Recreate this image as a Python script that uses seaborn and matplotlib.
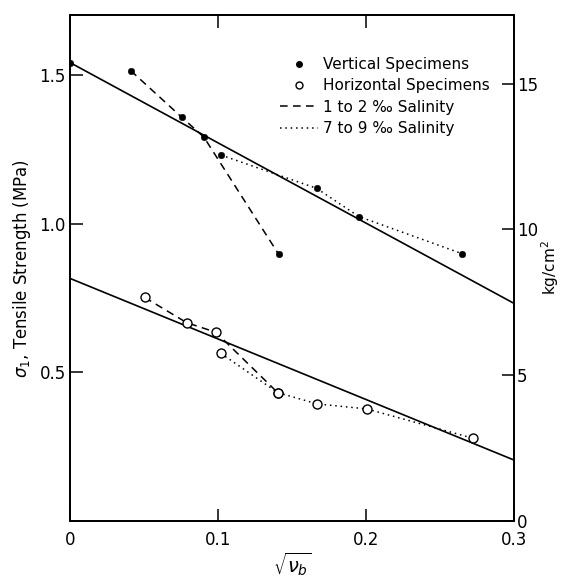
import matplotlib
matplotlib.use("Agg")
import matplotlib.pyplot as plt
import seaborn as sns
from matplotlib.lines import Line2D

# Fitted straight lines (end points at sqrt(nu_b) = 0 and 0.3)
fit_x = [0.0, 0.3]
vert_fit_y = [1.542, 0.732]
horiz_fit_y = [0.816, 0.205]

# Vertical specimens (filled dots)
vert_low_x = [0.041, 0.0755, 0.0905, 0.141]      # 1 to 2 permil salinity
vert_low_y = [1.515, 1.358, 1.291, 0.897]
vert_high_x = [0.102, 0.1666, 0.1952, 0.265]     # 7 to 9 permil salinity
vert_high_y = [1.231, 1.119, 1.024, 0.899]
vert_zero_x = [0.0]
vert_zero_y = [1.542]

# Horizontal specimens (open circles)
horiz_low_x = [0.0504, 0.0789, 0.0985, 0.1403]
horiz_low_y = [0.752, 0.667, 0.635, 0.432]
horiz_high_x = [0.1019, 0.1403, 0.1669, 0.2005, 0.2725]
horiz_high_y = [0.564, 0.432, 0.394, 0.377, 0.278]

x_ticks = [0.0, 0.1, 0.2, 0.3]
x_labels = ["0", "0.1", "0.2", "0.3"]
y_ticks = [0.5, 1.0, 1.5]
y_labels = ["0.5", "1.0", "1.5"]
kg_ticks = [0, 5, 10, 15]
MPA_TO_KG = 10.197

sns.set_style("ticks")
plt.rcParams['font.family'] = ['DejaVu Sans']
plt.rcParams['mathtext.fontset'] = 'dejavusans'
plt.rcParams['text.color'] = 'k'
plt.rcParams['axes.labelcolor'] = 'k'
plt.rcParams['xtick.color'] = 'k'
plt.rcParams['ytick.color'] = 'k'

fig = plt.figure(figsize=(5.61, 5.81), dpi=100)
ax = fig.add_axes([70 / 561, 1 - 521 / 581, 444 / 561, 506 / 581])

dash = (0, (5, 3.5))
dot = (0, (1, 2.5))

# fitted lines
sns.lineplot(x=fit_x, y=vert_fit_y, ax=ax, color='k', lw=1.2)
sns.lineplot(x=fit_x, y=horiz_fit_y, ax=ax, color='k', lw=1.2)

# salinity series
sns.lineplot(x=vert_low_x, y=vert_low_y, ax=ax, color='k', lw=1.1,
             linestyle=dash, sort=False, estimator=None)
sns.lineplot(x=vert_high_x, y=vert_high_y, ax=ax, color='k', lw=1.1,
             linestyle=dot, sort=False, estimator=None)
sns.lineplot(x=horiz_low_x, y=horiz_low_y, ax=ax, color='k', lw=1.1,
             linestyle=dash, sort=False, estimator=None)
sns.lineplot(x=horiz_high_x, y=horiz_high_y, ax=ax, color='k', lw=1.1,
             linestyle=dot, sort=False, estimator=None)

# markers
sns.scatterplot(x=vert_low_x + vert_high_x + vert_zero_x,
                y=vert_low_y + vert_high_y + vert_zero_y,
                ax=ax, color='k', s=22, edgecolor='k', zorder=5)
sns.scatterplot(x=horiz_low_x + horiz_high_x, y=horiz_low_y + horiz_high_y,
                ax=ax, facecolor='white', edgecolor='k', s=42,
                linewidth=1.0, zorder=5)

ax.set_xlim(0, 0.3)
ax.set_ylim(0, 1.702)
ax.set_xticks(x_ticks)
ax.set_xticklabels(x_labels)
ax.set_yticks(y_ticks)
ax.set_yticklabels(y_labels)
ax.tick_params(axis='both', direction='in', length=9, width=1.1,
               labelsize=12, color='k')
ax.tick_params(axis='x', top=True, pad=7)
ax.tick_params(axis='y', pad=3)
for sp in ax.spines.values():
    sp.set_linewidth(1.3)
    sp.set_color('k')

ax.set_xlabel(r"$\sqrt{\nu_b}$", fontsize=14, labelpad=1)
ax.set_ylabel(r"$\sigma_1$, Tensile Strength (MPa)", fontsize=12, labelpad=5)

# secondary axis in kg/cm2
ax2 = ax.twinx()
ax2.set_ylim(0, 1.702 * MPA_TO_KG)
ax2.set_yticks(kg_ticks)
ax2.set_yticklabels([str(t) for t in kg_ticks])
ax2.tick_params(axis='y', direction='in', length=9, width=1.1,
                labelsize=12, pad=2, color='k')
ax2.set_ylabel("kg/cm$^2$", fontsize=11, labelpad=1)
for sp in ax2.spines.values():
    sp.set_linewidth(1.3)
    sp.set_color('k')

handles = [
    Line2D([], [], marker='o', color='k', ls='none', markersize=4),
    Line2D([], [], marker='o', mfc='white', mec='k', ls='none', markersize=5),
    Line2D([], [], color='k', ls=dash, lw=1.1),
    Line2D([], [], color='k', ls=dot, lw=1.1),
]
labels = ["Vertical Specimens", "Horizontal Specimens",
          "1 to 2 \u2030 Salinity", "7 to 9 \u2030 Salinity"]
ax.legend(handles, labels, loc='upper left',
          bbox_to_anchor=((280 - 70) / 444, (521 - 57) / 506),
          frameon=False, borderpad=0, borderaxespad=0, handlelength=2.5,
          handletextpad=0.3, labelspacing=0.42, fontsize=11)

fig.savefig("out.png", dpi=100)
